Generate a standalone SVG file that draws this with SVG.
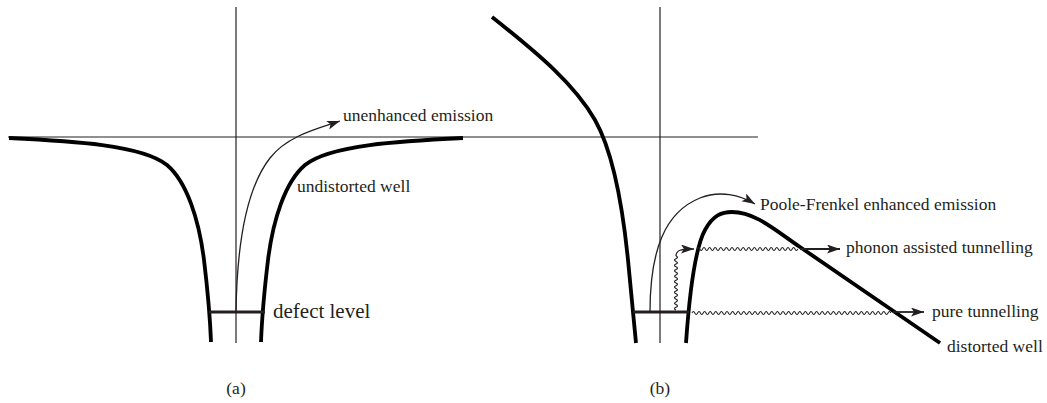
<svg xmlns="http://www.w3.org/2000/svg" width="1047" height="403" viewBox="0 0 1047 403">
<style>
.axis{stroke:#231f20;stroke-width:1.2;fill:none}
.well{stroke:#000;stroke-width:3.8;fill:none;stroke-linecap:butt}
.level{stroke:#231f20;stroke-width:3;fill:none}
.arr{stroke:#231f20;stroke-width:1.3;fill:none}
.arr2{stroke:#231f20;stroke-width:1.8;fill:none}
.wave{stroke:#231f20;stroke-width:1.1;fill:none}
.lbl{font-family:"Liberation Serif","Times New Roman",serif;font-size:17.5px;fill:#231f20}
.big{font-size:21px}
</style>
<defs>
<marker id="ah" markerUnits="userSpaceOnUse" markerWidth="14" markerHeight="10" refX="13" refY="4.5" orient="auto"><path d="M0,0 L13,4.5 L0,9 L3,4.5 z" fill="#231f20"/></marker>
</defs>
<rect width="1047" height="403" fill="#fff"/>
<g id="axes">
<line class="axis" x1="8" y1="137" x2="758" y2="137"/>
<line class="axis" x1="236" y1="7" x2="236" y2="343"/>
<line class="axis" x1="660" y1="7" x2="660" y2="343"/>
</g>
<g id="well-a">
<path class="well" d="M9,138 C72,141 142,145 167,165 C187,182 199,220 204,260 C207,285 210,315 211,342"/>
<path class="well" d="M463,138 C400,141 330,145 305,165 C285,182 273,220 268,260 C265,285 262,315 261,342"/>
<line class="level" x1="209" y1="312" x2="265" y2="312"/>
</g>
<g id="well-b">
<path class="well" d="M492,17 C540,55 575,85 595,120 C612,150 622,200 628,260 C631,290 634,320 636,343"/>
<path class="well" d="M686,343 C689,300 694,250 705,230 C713,215 722,212 732,212 C755,212 775,230 800,247 L940,343"/>
<line class="level" x1="633" y1="312" x2="689" y2="312"/>
</g>
<g id="connectors">
<path id="unenhanced" class="arr" marker-end="url(#ah)" d="M236,312 C237,240 248,186 270,158 C288,135 320,128 340,121"/>
<path id="poole-frenkel" class="arr" marker-end="url(#ah)" d="M650,312 C650,250 665,212 700,198 C720,190 740,195 755,204"/>
<path id="phonon-up" class="wave" d="M676,310 q-3,-1.35 0,-2.7 t0,-2.7 t0,-2.7 t0,-2.7 t0,-2.7 t0,-2.7 t0,-2.7 t0,-2.7 t0,-2.7 t0,-2.7 t0,-2.7 t0,-2.7 t0,-2.7 t0,-2.7 t0,-2.7 t0,-2.7 t0,-2.7 t0,-2.7 t0,-2.7 t0,-2.7"/>
<path id="phonon-turn" class="arr" marker-end="url(#ah)" d="M676,256 C676,250 681,249 694,249"/>
<path id="phonon-wave" class="wave" d="M697,249 q1.4,-3 2.8,0 t2.8,0 t2.8,0 t2.8,0 t2.8,0 t2.8,0 t2.8,0 t2.8,0 t2.8,0 t2.8,0 t2.8,0 t2.8,0 t2.8,0 t2.8,0 t2.8,0 t2.8,0 t2.8,0 t2.8,0 t2.8,0 t2.8,0 t2.8,0 t2.8,0 t2.8,0 t2.8,0 t2.8,0 t2.8,0 t2.8,0 t2.8,0 t2.8,0 t2.8,0 t2.8,0 t2.8,0 t2.8,0 t2.8,0 t2.8,0 t2.8,0"/>
<line id="phonon-out" class="arr2" marker-end="url(#ah)" x1="800" y1="249" x2="840" y2="249"/>
<path id="pure-wave" class="wave" d="M692,313 q1.4,-3 2.8,0 t2.8,0 t2.8,0 t2.8,0 t2.8,0 t2.8,0 t2.8,0 t2.8,0 t2.8,0 t2.8,0 t2.8,0 t2.8,0 t2.8,0 t2.8,0 t2.8,0 t2.8,0 t2.8,0 t2.8,0 t2.8,0 t2.8,0 t2.8,0 t2.8,0 t2.8,0 t2.8,0 t2.8,0 t2.8,0 t2.8,0 t2.8,0 t2.8,0 t2.8,0 t2.8,0 t2.8,0 t2.8,0 t2.8,0 t2.8,0 t2.8,0 t2.8,0 t2.8,0 t2.8,0 t2.8,0 t2.8,0 t2.8,0 t2.8,0 t2.8,0 t2.8,0 t2.8,0 t2.8,0 t2.8,0 t2.8,0 t2.8,0 t2.8,0 t2.8,0 t2.8,0 t2.8,0 t2.8,0 t2.8,0 t2.8,0 t2.8,0 t2.8,0 t2.8,0 t2.8,0 t2.8,0 t2.8,0 t2.8,0 t2.8,0 t2.8,0 t2.8,0 t2.8,0 t2.8,0 t2.8,0 t2.8,0"/>
<line id="pure-out" class="arr2" marker-end="url(#ah)" x1="893" y1="312" x2="924" y2="312"/>
</g>
<g id="labels">
<text class="lbl" x="343" y="121">unenhanced emission</text>
<text class="lbl" x="297" y="192">undistorted well</text>
<text class="lbl big" x="273" y="318">defect level</text>
<text class="lbl" x="236" y="394" text-anchor="middle">(a)</text>
<text class="lbl" x="760" y="210">Poole-Frenkel enhanced emission</text>
<text class="lbl" x="846" y="253">phonon assisted tunnelling</text>
<text class="lbl" x="932" y="317">pure tunnelling</text>
<text class="lbl" x="947" y="352">distorted well</text>
<text class="lbl" x="660" y="394" text-anchor="middle">(b)</text>
</g>
</svg>
